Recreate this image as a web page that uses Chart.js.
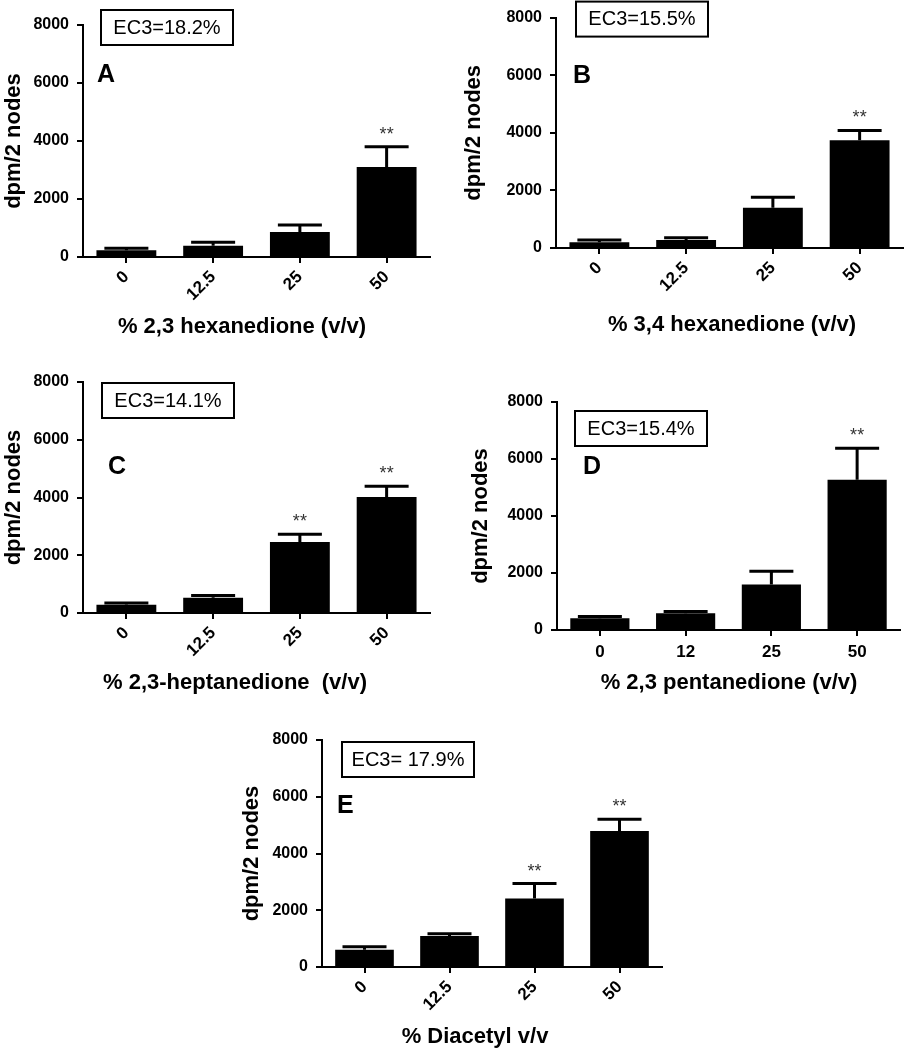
<!DOCTYPE html>
<html>
<head>
<meta charset="utf-8">
<script src="https://cdn.jsdelivr.net/npm/chart.js@4/dist/chart.umd.min.js"></script>
<style>
  body { margin: 0; background: #fff; }
  #figure { position: relative; width: 905px; height: 1050px; }
  #figure canvas { position: absolute; }
</style>
</head>
<body>
<div id="figure">
  <canvas id="panel-a"></canvas>
  <canvas id="panel-b"></canvas>
  <canvas id="panel-c"></canvas>
  <canvas id="panel-d"></canvas>
  <canvas id="panel-e"></canvas>
</div>
<script>
const FONT = "'Liberation Sans', Arial, Helvetica, sans-serif";

// shared text
const yTitle = "dpm/2 nodes";
const yTicks = [0, 2000, 4000, 6000, 8000];

// A - 2,3 hexanedione
const concA = ["0", "12.5", "25", "50"];
const meanA = [230, 390, 860, 3100];
const errA = [70, 120, 240, 700];
const sigA = [false, false, false, true];

// B - 3,4 hexanedione
const concB = ["0", "12.5", "25", "50"];
const meanB = [200, 280, 1400, 3740];
const errB = [80, 80, 360, 340];
const sigB = [false, false, false, true];

// C - 2,3-heptanedione
const concC = ["0", "12.5", "25", "50"];
const meanC = [290, 530, 2460, 4020];
const errC = [60, 80, 265, 370];
const sigC = [false, false, true, true];

// D - 2,3 pentanedione
const concD = ["0", "12", "25", "50"];
const meanD = [410, 590, 1600, 5270];
const errD = [60, 60, 460, 1110];
const sigD = [false, false, false, true];

// E - diacetyl
const concE = ["0", "12.5", "25", "50"];
const meanE = [610, 1090, 2410, 4790];
const errE = [100, 80, 530, 420];
const sigE = [false, false, true, true];

const panelLetters = ["A", "B", "C", "D", "E"];
const ec3Labels = ["EC3=18.2%", "EC3=15.5%", "EC3=14.1%", "EC3=15.4%", "EC3= 17.9%"];
const xTitles = [
  "% 2,3 hexanedione (v/v)",
  "% 3,4 hexanedione (v/v)",
  "% 2,3-heptanedione  (v/v)",
  "% 2,3 pentanedione (v/v)",
  "% Diacetyl v/v",
];

// where each panel sits on the page (pixels)
const frames = [
  { id: "panel-a", left: 0, top: 0, width: 440, height: 340, yWidth: 83, xHeight: 83, padTop: 25, padRight: 10,
    rotate: true, titleX: 242, titleY: 327, box: [18, -15], letter: [14, 57] },
  { id: "panel-b", left: 460, top: 0, width: 445, height: 340, yWidth: 96, xHeight: 92, padTop: 17, padRight: 2,
    rotate: true, titleX: 272, titleY: 325, box: [20, -16], letter: [17, 65] },
  { id: "panel-c", left: 0, top: 350, width: 440, height: 346, yWidth: 83, xHeight: 83, padTop: 32, padRight: 10,
    rotate: true, titleX: 235, titleY: 333, box: [19, 1], letter: [25, 92] },
  { id: "panel-d", left: 467, top: 350, width: 438, height: 346, yWidth: 90, xHeight: 66, padTop: 52, padRight: 5,
    rotate: false, titleX: 262, titleY: 333, box: [18, 9], letter: [26, 72] },
  { id: "panel-e", left: 238, top: 700, width: 432, height: 350, yWidth: 84, xHeight: 83, padTop: 40, padRight: 8,
    rotate: true, titleX: 237, titleY: 337, box: [20, 2], letter: [15, 73] },
];

const panelData = [
  { labels: concA, means: meanA, errs: errA, sig: sigA },
  { labels: concB, means: meanB, errs: errB, sig: sigB },
  { labels: concC, means: meanC, errs: errC, sig: sigC },
  { labels: concD, means: meanD, errs: errD, sig: sigD },
  { labels: concE, means: meanE, errs: errE, sig: sigE },
];

// error bars, EC3 box, panel letter, ** and x title
const panelDecor = {
  id: "panelDecor",
  afterDatasetsDraw(chart, args, opts) {
    const ctx = chart.ctx;
    const yScale = chart.scales.y;
    const bars = chart.getDatasetMeta(0).data;
    ctx.save();
    ctx.strokeStyle = "#000";
    ctx.lineWidth = 3;
    ctx.beginPath();
    bars.forEach((bar, i) => {
      const top = yScale.getPixelForValue(opts.means[i] + opts.errs[i]);
      ctx.moveTo(bar.x, bar.y);
      ctx.lineTo(bar.x, top);
      ctx.moveTo(bar.x - 22, top);
      ctx.lineTo(bar.x + 22, top);
    });
    ctx.stroke();

    ctx.fillStyle = "#333";
    ctx.font = `18px ${FONT}`;
    ctx.textAlign = "center";
    ctx.textBaseline = "alphabetic";
    bars.forEach((bar, i) => {
      if (!opts.sig[i]) return;
      const top = yScale.getPixelForValue(opts.means[i] + opts.errs[i]);
      ctx.fillText("**", bar.x, top - 7);
    });
    ctx.restore();
  },
  afterDraw(chart, args, opts) {
    const ctx = chart.ctx;
    const area = chart.chartArea;
    ctx.save();

    // EC3 box
    const bx = area.left + opts.box[0];
    const by = area.top + opts.box[1];
    ctx.strokeStyle = "#000";
    ctx.lineWidth = 2;
    ctx.strokeRect(bx, by, 132, 35);
    ctx.fillStyle = "#000";
    ctx.font = `20px ${FONT}`;
    ctx.textAlign = "center";
    ctx.textBaseline = "middle";
    ctx.fillText(opts.ec3, bx + 66, by + 18);

    // panel letter
    ctx.font = `bold 25px ${FONT}`;
    ctx.textAlign = "left";
    ctx.textBaseline = "alphabetic";
    ctx.fillText(opts.letter, area.left + opts.letterPos[0], area.top + opts.letterPos[1]);

    // x axis title
    ctx.font = `bold 22px ${FONT}`;
    ctx.textAlign = "center";
    ctx.textBaseline = "middle";
    ctx.fillText(opts.xTitle, opts.titleX, opts.titleY);
    ctx.restore();
  },
};

function makePanel(frame, data, i) {
  const canvas = document.getElementById(frame.id);
  canvas.width = frame.width;
  canvas.height = frame.height;
  canvas.style.left = frame.left + "px";
  canvas.style.top = frame.top + "px";
  canvas.style.width = frame.width + "px";
  canvas.style.height = frame.height + "px";

  const rotation = frame.rotate ? 45 : 0;

  return new Chart(canvas, {
    type: "bar",
    data: {
      labels: data.labels,
      datasets: [
        {
          data: data.means,
          backgroundColor: "#000",
          borderWidth: 0,
          barPercentage: 0.69,
          categoryPercentage: 1,
        },
      ],
    },
    options: {
      responsive: false,
      animation: false,
      layout: { padding: { top: frame.padTop, right: frame.padRight, left: 0, bottom: 0 } },
      plugins: {
        legend: { display: false },
        tooltip: { enabled: false },
        panelDecor: {
          means: data.means,
          errs: data.errs,
          sig: data.sig,
          ec3: ec3Labels[i],
          letter: panelLetters[i],
          xTitle: xTitles[i],
          box: frame.box,
          letterPos: frame.letter,
          titleX: frame.titleX,
          titleY: frame.titleY,
        },
      },
      scales: {
        x: {
          offset: true,
          border: { color: "#000", width: 2 },
          grid: { display: true, drawOnChartArea: false, offset: false, color: "#000", lineWidth: 2, tickLength: 6 },
          ticks: {
            color: "#000",
            font: { family: FONT, size: 17, weight: "bold" },
            minRotation: rotation,
            maxRotation: rotation,
            padding: frame.rotate ? 4 : 6,
          },
          afterFit: (scale) => {
            scale.height = frame.xHeight;
          },
        },
        y: {
          min: 0,
          max: 8000,
          border: { color: "#000", width: 2 },
          grid: { display: true, drawOnChartArea: false, color: "#000", lineWidth: 2, tickLength: 6 },
          ticks: {
            color: "#000",
            font: { family: FONT, size: 16, weight: "bold" },
            padding: 8,
            callback: (value) => String(value),
          },
          afterBuildTicks: (scale) => {
            scale.ticks = yTicks.map((v) => ({ value: v }));
          },
          afterFit: (scale) => {
            scale.width = frame.yWidth;
          },
          title: {
            display: true,
            text: yTitle,
            color: "#000",
            font: { family: FONT, size: 22, weight: "bold" },
            padding: { top: 1, bottom: 0 },
          },
        },
      },
    },
    plugins: [panelDecor],
  });
}

frames.forEach((frame, i) => makePanel(frame, panelData[i], i));
</script>
</body>
</html>
